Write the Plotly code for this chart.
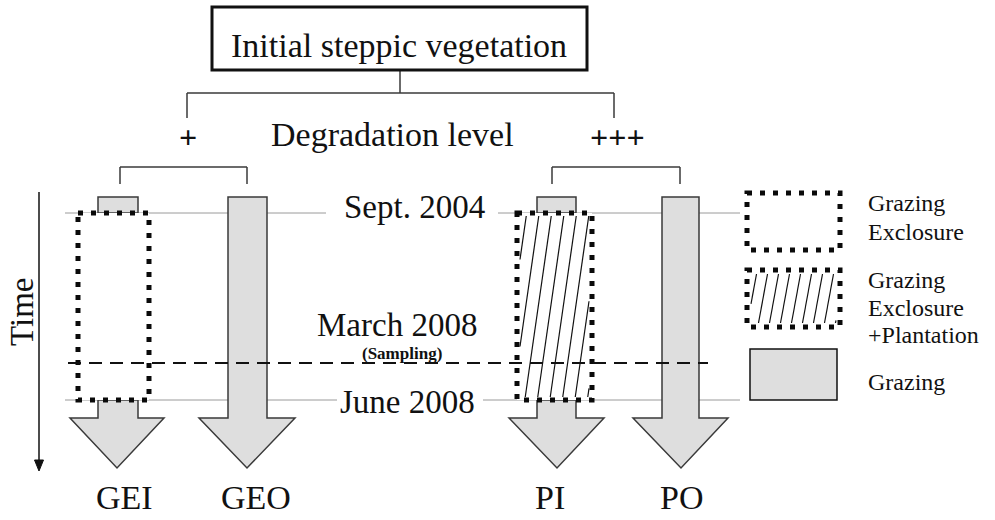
import plotly.graph_objects as go

W, H = 995, 520
FONT = "Liberation Serif, Times New Roman, serif"
GRAY_FILL = "#dedede"
OUTLINE = "#3a3a3a"

# ---- data: treatments and their arrows ----
treatments = ["GEI", "GEO", "PI", "PO"]
label_x = [124, 256, 550, 681]
label_y = 497
arrow_tip_x = [117, 247, 557, 681]
stem_left = [98, 228, 537, 662]
stem_right = [138, 267, 576, 699]
head_left = [70, 199, 509, 633]
head_right = [164, 295, 604, 728]
exclosure = [True, False, True, False]
plantation = [False, False, True, False]
box_left = [78, None, 517, None]
box_right = [149, None, 592, None]

arrow_top = 197
box_top = 213
box_bottom = 400
shoulder_y = 418
tip_y = 468

# ---- data: dates on the time line ----
dates = ["Sept. 2004", "March 2008", "June 2008"]
date_x = [414, 397, 407]
date_y = [207, 325, 402]
sampling_label = "(Sampling)"
sampling_y = 353
dashed_y = 363

# ---- data: hierarchy texts ----
title_text = "Initial steppic vegetation"
degradation_text = "Degradation level"
degradation_levels = ["+", "+++"]
degradation_x = [188, 617]

# ---- data: legend ----
legend_labels = [["Grazing", "Exclosure"], ["Grazing", "Exclosure", "+Plantation"], ["Grazing"]]
legend_text_y = [[203, 232], [280, 308, 335], [382]]
legend_text_x = 866

shapes = []
annotations = []


def line(x0, y0, x1, y1, color=OUTLINE, width=1.5, dash="solid"):
    shapes.append(dict(type="line", x0=x0, y0=y0, x1=x1, y1=y1, xref="x", yref="y",
                       line=dict(color=color, width=width, dash=dash)))


def path(d, fill, color=OUTLINE, width=1.5):
    shapes.append(dict(type="path", path=d, xref="x", yref="y", fillcolor=fill,
                       line=dict(color=color, width=width)))


def rect(x0, y0, x1, y1, fill="rgba(0,0,0,0)", color=OUTLINE, width=1.5, dash="solid"):
    shapes.append(dict(type="rect", x0=x0, y0=y0, x1=x1, y1=y1, xref="x", yref="y",
                       fillcolor=fill, line=dict(color=color, width=width, dash=dash)))


def text(x, y, s, size, bold=False, angle=0, xanchor="center"):
    annotations.append(dict(x=x, y=y, xref="x", yref="y", text=("<b>%s</b>" % s) if bold else s,
                            showarrow=False, xanchor=xanchor, yanchor="middle", textangle=angle,
                            font=dict(family=FONT, size=size, color="#111111")))


def hatch(x0, y0, x1, y1, spacing, dx, inset):
    xi0, xi1 = x0 + inset, x1 - inset
    yi0, yi1 = y0 + inset, y1 - inset
    h = yi1 - yi0
    b = xi0 - dx + spacing * 0.5
    while b < xi1:
        xb, yb = b, yi1
        xt, yt = b + dx, yi0
        if xb < xi0:
            t = (xi0 - b) / dx
            xb, yb = xi0, yi1 - t * h
        if xt > xi1:
            t = (xi1 - b) / dx
            xt, yt = xi1, yi1 - t * h
        if yb > yt + 2:
            line(xb, yb, xt, yt, color="#111111", width=1.2)
        b += spacing


# ---- thin reference lines (Sept 2004 / June 2008) ----
line(65, 213, 326, 213, color="#9a9a9a", width=1)
line(498, 213, 740, 213, color="#9a9a9a", width=1)
line(65, 400, 337, 400, color="#9a9a9a", width=1)
line(483, 400, 740, 400, color="#9a9a9a", width=1)

# ---- hierarchy brackets ----
line(400, 70, 400, 93)
line(187, 93, 614, 93)
line(187, 93, 187, 118)
line(614, 93, 614, 118)
line(120, 167, 247, 167)
line(120, 167, 120, 184)
line(247, 167, 247, 184)
line(552, 167, 680, 167)
line(552, 167, 552, 184)
line(680, 167, 680, 184)

# title box
rect(212, 7, 587, 70, fill="white", color="#111111", width=3)

# ---- arrows ----
for i, name in enumerate(treatments):
    xl, xr = stem_left[i], stem_right[i]
    hl, hr, tx = head_left[i], head_right[i], arrow_tip_x[i]
    if not exclosure[i]:
        d = (f"M {xl} {arrow_top} L {xr} {arrow_top} L {xr} {shoulder_y} L {hr} {shoulder_y} "
             f"L {tx} {tip_y} L {hl} {shoulder_y} L {xl} {shoulder_y} Z")
        path(d, GRAY_FILL)
    else:
        path(f"M {xl} {box_top} L {xl} {arrow_top} L {xr} {arrow_top} L {xr} {box_top} Z", GRAY_FILL)
        d = (f"M {xl} {box_bottom} L {xr} {box_bottom} L {xr} {shoulder_y} L {hr} {shoulder_y} "
             f"L {tx} {tip_y} L {hl} {shoulder_y} L {xl} {shoulder_y} Z")
        path(d, GRAY_FILL)
        bl, br = box_left[i], box_right[i]
        rect(bl, box_top, br, box_bottom, fill="white", color="rgba(0,0,0,0)", width=0)
        if plantation[i]:
            hatch(bl, box_top, br, box_bottom, spacing=12.5, dx=26, inset=3)
        rect(bl, box_top, br, box_bottom, color="#0a0a0a", width=5, dash="5px,8px")

# dashed sampling line
line(68, dashed_y, 708, dashed_y, color="#111111", width=2, dash="13px,8px")

# ---- time axis ----
line(39, 192, 39, 462, color="#111111", width=1.5)
path("M 34.5 460 L 43.5 460 L 39 471 Z", "#111111", color="#111111", width=1)

# ---- legend ----
rect(747, 193, 840, 250, color="#0a0a0a", width=5, dash="5px,8px")
hatch(747, 270, 840, 327, spacing=11, dx=9, inset=4)
rect(747, 270, 840, 327, color="#0a0a0a", width=5, dash="5px,8px")
rect(750, 349, 837, 400, fill=GRAY_FILL, color="#111111", width=1.5)

# ---- texts ----
text(399, 45, title_text, 34)
text(392, 134, degradation_text, 34)
for lx, lv in zip(degradation_x, degradation_levels):
    text(lx, 137, lv, 32, bold=True)
for dx_, dy_, dl in zip(date_x, date_y, dates):
    text(dx_, dy_, dl, 33)
text(402, sampling_y, sampling_label, 17, bold=True)
for name, lx in zip(treatments, label_x):
    text(lx, label_y, name, 34)
text(22, 312, "Time", 33, angle=-90)
for labels, ys in zip(legend_labels, legend_text_y):
    for s, y in zip(labels, ys):
        text(legend_text_x, y, s, 24, xanchor="left")

fig = go.Figure()
fig.update_layout(
    width=W, height=H,
    margin=dict(l=0, r=0, t=0, b=0),
    paper_bgcolor="white", plot_bgcolor="white",
    xaxis=dict(range=[0, W], visible=False, fixedrange=True),
    yaxis=dict(range=[H, 0], visible=False, fixedrange=True),
    shapes=shapes, annotations=annotations, showlegend=False,
)
fig.write_html("out.html", config={"displayModeBar": False},
               post_script="document.body.style.margin='0px';document.body.style.overflow='hidden';")
